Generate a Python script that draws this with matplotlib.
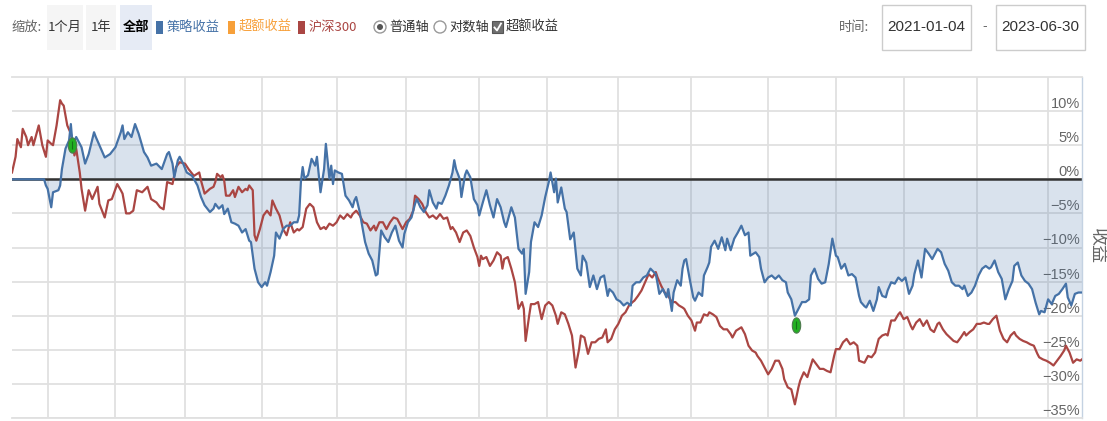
import matplotlib
matplotlib.use('Agg')
import matplotlib.pyplot as plt
from matplotlib import font_manager
from matplotlib.patches import Rectangle, Ellipse
from matplotlib.lines import Line2D
from matplotlib.path import Path
import numpy as np

W, H = 1107, 421

# x is the trading-day index counted from 2021-01-04, values are cumulative returns in %
strat_days = [0, 18, 19, 20, 22, 23, 26, 27, 28, 30, 32, 33, 34, 36, 39, 41, 43, 46, 47, 49,
              52, 55, 58, 61, 62, 63, 65, 67, 69, 71, 74, 76, 78, 81, 84, 87, 88, 90, 91, 93,
              94, 96, 98, 101, 104, 106, 108, 111, 113, 114, 116, 118, 119, 121, 123, 125, 127, 129, 131, 133,
              134, 136, 138, 140, 142, 143, 145, 147, 148, 150, 152, 154, 156, 158, 160, 161, 162, 163, 164, 166,
              168, 170, 171, 173, 175, 176, 178, 179, 180, 181, 183, 185, 187, 189, 191, 192, 193, 195, 196, 198,
              200, 202, 204, 205, 207, 209, 211, 213, 215, 217, 219, 220, 222, 224, 226, 227, 229, 231, 233, 234,
              236, 238, 239, 241, 243, 245, 247, 248, 249, 251, 252, 254, 255, 257, 259, 261, 262, 264, 266, 268,
              270, 272, 274, 276, 277, 280, 282, 284, 286, 287, 288, 290, 291, 293, 295, 297, 299, 301, 302, 304,
              305, 306, 308, 310, 311, 313, 315, 317, 319, 320, 322, 324, 326, 328, 330, 332, 334, 335, 337, 339,
              341, 343, 345, 347, 348, 350, 352, 354, 356, 358, 361, 362, 363, 365, 367, 368, 370, 371, 373, 375,
              376, 377, 378, 380, 382, 383, 385, 387, 388, 390, 391, 392, 394, 396, 398, 400, 401, 403, 405, 407,
              409, 411, 413, 414, 417, 419, 420, 422, 424, 426, 428, 430, 432, 434, 435, 437, 439, 441, 443, 445,
              447, 448, 450, 452, 454, 456, 458, 460, 462, 463, 465, 467, 469, 471, 473, 475, 476, 478, 479, 481,
              483, 485, 486, 488, 490, 491, 493, 495, 497, 499, 501, 503, 505, 506, 508, 510, 512, 514, 516, 518,
              519, 521, 523, 525, 527, 529, 531, 533, 534, 536, 538, 540, 542, 544, 546, 548, 549, 551, 553, 555,
              557, 559, 561, 562, 564, 566, 568, 570, 572, 574, 576, 577, 579, 581, 583, 585, 587, 589, 591, 592,
              594, 596, 598, 600]
strat_ret = [0.0, 0.0, -0.9, -1.4, -4.1, -1.9, -1.6, -0.9, 1.5, 4.5, 5.7, 8.1, 5.0, 6.2, 4.7, 2.3, 3.7, 6.9, 6.2, 5.0,
             3.2, 3.7, 4.7, 6.9, 7.9, 5.9, 6.9, 6.2, 8.1, 6.7, 4.0, 3.2, 2.0, 2.3, 1.5, 3.7, 4.0, 2.3, 0.3, 2.8,
             3.3, 2.3, 1.0, 0.5, -0.9, -2.6, -3.8, -4.8, -4.3, -3.6, -4.3, -3.8, -5.1, -4.3, -6.3, -6.5, -6.8, -7.8, -7.3, -9.0,
             -9.2, -13.1, -15.1, -15.8, -15.1, -15.6, -13.6, -11.2, -7.8, -8.7, -7.3, -6.8, -6.8, -6.3, -6.3, -5.3, -0.4, 1.8, 0.1, 0.6,
             3.0, 2.0, 3.3, -1.9, 1.5, 5.2, 0.1, 2.0, -0.7, 1.3, 1.0, 0.8, -2.4, -3.1, -4.1, -3.1, -2.6, -4.8, -6.3, -9.2,
             -10.9, -11.9, -14.1, -13.9, -7.5, -8.5, -9.2, -7.8, -6.8, -9.0, -10.0, -8.0, -6.3, -5.6, -3.6, -2.9, -4.1, -4.8, -3.8, -1.6,
             -3.4, -4.3, -3.4, -3.6, -2.4, -0.9, 1.0, 2.8, 1.5, 0.1, -2.6, 0.6, 1.3, 0.3, -2.9, -3.8, -5.3, -3.4, -1.6, -3.8,
             -5.6, -2.9, -4.1, -6.3, -7.0, -4.1, -5.6, -10.2, -10.9, -10.2, -16.8, -13.6, -9.2, -6.3, -7.0, -5.3, -2.6, -0.4, 1.0, -1.9,
             0.1, -3.4, -1.2, -4.3, -4.8, -8.8, -7.8, -13.1, -14.1, -11.2, -12.2, -15.8, -14.1, -16.1, -14.4, -14.1, -17.1, -16.1, -16.6, -17.6,
             -17.9, -18.5, -18.1, -18.5, -15.6, -15.1, -15.1, -14.4, -14.1, -13.1, -13.9, -15.3, -16.8, -16.1, -17.3, -16.1, -19.3, -16.6, -14.8, -15.6,
             -13.1, -11.9, -11.7, -14.6, -17.3, -17.8, -16.6, -17.1, -14.1, -12.9, -12.2, -9.9, -9.0, -10.2, -8.5, -10.4, -8.7, -10.4, -8.7, -7.8,
             -6.8, -8.2, -7.8, -11.2, -10.7, -11.4, -13.1, -15.1, -14.4, -14.1, -14.6, -14.1, -14.8, -15.1, -16.6, -17.6, -20.0, -19.0, -18.0, -18.0,
             -17.6, -14.1, -13.1, -14.6, -15.3, -15.1, -12.4, -8.7, -11.2, -11.4, -13.1, -12.4, -14.1, -13.9, -14.4, -17.1, -18.0, -18.6, -18.8, -17.8,
             -19.3, -17.6, -15.8, -17.1, -17.3, -16.3, -15.1, -15.3, -14.4, -14.9, -14.4, -16.8, -15.6, -13.9, -11.9, -14.4, -10.2, -10.9, -11.7, -10.7,
             -10.2, -10.7, -12.4, -13.4, -15.1, -15.6, -15.6, -16.1, -15.6, -17.1, -16.6, -15.6, -14.1, -13.1, -12.7, -13.1, -12.9, -11.9, -13.6, -14.6,
             -17.6, -16.1, -14.9, -12.7, -12.2, -14.1, -14.9, -15.3, -16.1, -18.1, -19.8, -19.3, -19.5, -17.6, -18.3, -17.1, -16.8, -16.1, -15.3, -17.3,
             -18.5, -16.8, -16.6, -16.6]

hs300_days = [0, 2, 3, 5, 6, 8, 9, 11, 12, 14, 15, 17, 19, 20, 22, 23, 25, 27, 28, 29,
              31, 33, 34, 35, 36, 38, 39, 41, 43, 45, 48, 49, 52, 54, 56, 59, 61, 62, 64, 66,
              68, 70, 73, 76, 78, 81, 83, 85, 87, 90, 91, 92, 94, 97, 99, 102, 105, 106, 108, 111,
              113, 114, 115, 117, 118, 119, 120, 122, 124, 125, 127, 129, 131, 132, 133, 135, 136, 137, 139, 141,
              143, 145, 146, 148, 150, 152, 154, 156, 158, 160, 161, 163, 165, 167, 169, 171, 173, 175, 176, 178,
              180, 182, 184, 186, 188, 190, 191, 193, 195, 197, 199, 201, 203, 204, 206, 208, 210, 212, 214, 216,
              218, 219, 221, 223, 225, 226, 228, 230, 232, 234, 236, 238, 240, 242, 244, 246, 247, 249, 251, 253,
              255, 257, 259, 261, 262, 263, 264, 266, 268, 270, 272, 274, 275, 276, 278, 280, 282, 284, 286, 287,
              288, 290, 291, 293, 295, 297, 299, 301, 303, 305, 306, 308, 310, 312, 314, 316, 318, 319, 321, 323,
              325, 327, 329, 331, 333, 334, 336, 338, 340, 342, 344, 346, 348, 349, 351, 353, 355, 357, 359, 361,
              362, 364, 366, 368, 370, 372, 374, 376, 377, 379, 381, 383, 384, 386, 388, 390, 391, 393, 395, 397,
              399, 401, 403, 404, 406, 409, 411, 413, 415, 417, 418, 420, 422, 424, 426, 428, 430, 432, 433, 435,
              437, 439, 441, 442, 444, 446, 447, 449, 451, 453, 455, 457, 459, 461, 462, 464, 466, 468, 470, 472,
              474, 475, 478, 480, 482, 484, 486, 488, 490, 491, 493, 495, 497, 498, 500, 502, 504, 505, 507, 509,
              511, 513, 515, 517, 519, 520, 522, 524, 526, 528, 530, 532, 534, 535, 537, 539, 541, 543, 545, 547,
              548, 550, 552, 554, 556, 558, 560, 562, 563, 565, 567, 569, 571, 573, 575, 576, 578, 580, 582, 584,
              586, 588, 590, 591, 593, 595, 597, 599, 600]
hs300_ret = [1.0, 3.3, 5.9, 4.7, 7.4, 6.2, 5.0, 6.2, 5.0, 6.9, 7.9, 5.0, 3.3, 5.7, 5.2, 5.0, 7.9, 11.6, 11.1, 10.8,
             7.9, 6.7, 5.5, 3.5, 4.5, 1.0, -1.4, -4.6, -1.6, -2.9, -1.1, -3.6, -5.6, -3.1, -2.9, -0.7, -1.6, -2.1, -5.0, -5.0,
             -4.6, -1.6, -1.9, -1.1, -2.9, -3.4, -4.1, -4.4, -0.4, -0.7, 0.6, 1.8, 2.5, 2.3, 1.5, 0.5, 1.0, -0.2, -2.1, -1.4,
             -1.1, -0.4, 0.8, 0.3, 0.6, -0.2, -2.4, -2.4, -1.6, -2.6, -1.1, -1.9, -1.4, -1.6, -0.9, -1.6, -8.2, -9.0, -7.3, -5.3,
             -4.6, -5.3, -3.1, -4.3, -5.3, -7.3, -8.2, -6.3, -7.8, -7.3, -7.5, -7.0, -4.3, -3.6, -4.1, -6.3, -7.3, -7.0, -7.3, -6.5,
             -6.8, -6.3, -5.3, -5.8, -5.1, -5.6, -5.1, -4.6, -5.3, -6.3, -6.5, -7.5, -6.8, -7.5, -6.3, -6.3, -7.3, -6.3, -5.6, -5.8,
             -6.8, -7.3, -6.3, -5.8, -4.6, -2.4, -2.9, -3.6, -4.8, -5.6, -5.3, -5.8, -5.1, -5.8, -5.6, -7.3, -7.0, -7.8, -9.2, -7.8,
             -7.5, -8.3, -10.0, -11.4, -12.7, -11.2, -11.7, -11.4, -12.7, -11.9, -10.7, -11.2, -13.1, -11.7, -11.4, -13.1, -15.1, -19.0, -18.0, -19.0,
             -23.7, -20.0, -18.3, -18.3, -18.0, -20.5, -18.5, -18.0, -18.5, -20.0, -21.2, -19.5, -19.8, -21.2, -22.9, -27.6, -24.9, -22.9, -23.2, -25.6,
             -23.9, -23.9, -23.4, -23.2, -22.0, -23.9, -23.4, -22.0, -21.2, -20.0, -19.5, -18.5, -18.0, -17.8, -17.1, -16.3, -15.1, -13.9, -14.4, -13.6,
             -14.4, -15.6, -16.6, -17.1, -18.0, -18.0, -18.5, -18.8, -19.0, -20.0, -20.7, -22.2, -21.0, -21.0, -19.8, -20.0, -19.5, -19.8, -20.2, -21.5,
             -22.0, -22.0, -22.7, -23.2, -22.2, -21.7, -22.7, -24.4, -25.1, -25.4, -25.9, -26.6, -27.6, -28.6, -27.8, -26.6, -26.6, -27.8, -29.3, -30.5,
             -30.8, -33.0, -30.5, -29.5, -28.3, -29.0, -28.1, -26.4, -27.1, -27.8, -27.8, -28.1, -28.3, -25.9, -24.9, -24.9, -23.9, -23.4, -24.2, -23.9,
             -24.4, -26.6, -26.9, -25.9, -26.1, -25.4, -23.4, -22.9, -22.7, -22.9, -20.7, -20.7, -19.8, -19.5, -20.5, -20.2, -21.5, -22.0, -21.0, -20.5,
             -21.5, -20.7, -22.0, -22.4, -21.2, -21.0, -22.0, -22.7, -23.2, -23.7, -23.9, -23.2, -22.4, -22.9, -22.4, -22.0, -21.2, -21.2, -21.0, -21.2,
             -21.2, -20.5, -20.0, -22.2, -23.4, -23.9, -22.9, -22.4, -22.9, -23.4, -23.7, -23.9, -24.2, -24.4, -25.6, -26.1, -26.4, -26.6, -26.9, -27.3,
             -26.6, -25.9, -25.1, -24.4, -25.4, -26.9, -26.4, -26.6, -26.4]

# first trading day of every second month (Feb 2021 ... Jun 2023)
month_ticks = [20, 58, 97, 140, 182, 221, 262, 300, 340, 381, 424, 462, 500, 541, 581]
y_ticks = [10, 5, 0, -5, -10, -15, -20, -25, -30, -35]

# drawdown markers on the strategy curve
dot_days = [33.5, 439.5]
dot_ret = [5.0, -21.3]

start_date, end_date = '2021-01-04', '2023-06-30'

BLUE = '#4572A7'
RED = '#AA4643'
ORANGE = '#f7a03a'
GRID = '#e0e0e0'

plt.rcParams['font.family'] = ['Noto Sans CJK SC', 'DejaVu Sans']
names = {f.name for f in font_manager.fontManager.ttflist}
narrow = 'Liberation Sans Narrow' if 'Liberation Sans Narrow' in names else 'Liberation Sans'
num_font = [narrow, 'DejaVu Sans']

fig = plt.figure(figsize=(W / 100, H / 100), dpi=100)


def fx(x):
    return x / W


def fy(y):
    return 1 - y / H


# ---- toolbar row ----
def box(x0, x1, face, edge='none'):
    fig.add_artist(Rectangle((fx(x0), fy(50)), (x1 - x0) / W, 45 / H, transform=fig.transFigure,
                             facecolor=face, edgecolor=edge, lw=1))


def label(x, s, color='#333333', **kw):
    fig.text(fx(x), fy(27), s, color=color, va='center', fontsize=9.5, **kw)


label(11, '缩放:', color='#666666')
box(47, 83, '#f5f5f5')
label(65, '1个月', ha='center')
box(86, 116, '#f5f5f5')
label(101, '1年', ha='center')
box(120, 152, '#e6ebf5')
label(136, '全部', color='#000000', ha='center', fontweight='bold')

for x0, txt, col in [(156, '策略收益', BLUE), (228, '超额收益', ORANGE), (298, '沪深300', RED)]:
    fig.add_artist(Rectangle((fx(x0), fy(34)), 7 / W, 13 / H, transform=fig.transFigure,
                             facecolor=col, edgecolor='none'))
    label(x0 + 11, txt, color=col)

# radio buttons and checkbox
fig.add_artist(Ellipse((fx(380), fy(27)), 12 / W, 12 / H, transform=fig.transFigure,
                       facecolor='white', edgecolor='#999999', lw=1))
fig.add_artist(Ellipse((fx(380), fy(27)), 6 / W, 6 / H, transform=fig.transFigure,
                       facecolor='#555555', edgecolor='none'))
label(389, '普通轴')
fig.add_artist(Ellipse((fx(440), fy(27)), 12 / W, 12 / H, transform=fig.transFigure,
                       facecolor='white', edgecolor='#999999', lw=1))
label(449, '对数轴')
fig.add_artist(Rectangle((fx(492), fy(33)), 11 / W, 12 / H, transform=fig.transFigure,
                         facecolor='#6f6f6f', edgecolor='#555555', lw=0.8))
fig.add_artist(Line2D([fx(494.5), fx(497), fx(501)], [fy(27.5), fy(30.5), fy(23.5)],
                      transform=fig.transFigure, color='white', lw=1.3))
label(506, '超额收益')

# date range inputs
label(839, '时间:', color='#666666')
box(882, 971, 'white', '#cccccc')
fig.text(fx(926.5), fy(27), start_date, color='#333333', va='center', ha='center', fontsize=11, family=num_font)
label(985, '-', color='#666666', ha='center')
box(996, 1085, 'white', '#cccccc')
fig.text(fx(1040.5), fy(27), end_date, color='#333333', va='center', ha='center', fontsize=11, family=num_font)

# ---- chart ----
ax = fig.add_axes([fx(12), fy(418), 1070 / W, 341 / H])
ax.set_xlim(0, 600)
ax.set_ylim(-35, 15)

ax.set_xticks(month_ticks)
ax.tick_params(axis='x', length=0, labelbottom=False)
ax.set_yticks(y_ticks)
ax.set_yticklabels([f'{v}%'.replace('-', '\u2212') for v in y_ticks])
ax.yaxis.tick_right()
ax.tick_params(axis='y', length=0, pad=-1.5, labelsize=10.5, labelcolor='#666666')
for t in ax.yaxis.get_major_ticks():
    t.label2.set_ha('right')
    t.label2.set_va('bottom')
    t.label2.set_family(num_font)

ax.grid(True, color=GRID, lw=1.3, zorder=0)
ax.set_axisbelow(True)
for side in ['top', 'bottom']:
    ax.spines[side].set_color(GRID)
    ax.spines[side].set_linewidth(1.3)
ax.spines['left'].set_visible(False)
ax.spines['right'].set_color('#c4d2e2')
ax.spines['right'].set_linewidth(1)

ax.fill_between(strat_days, strat_ret, 0, color=BLUE, alpha=0.2, lw=0, zorder=1)
ax.axhline(0, color='#333333', lw=1.8, zorder=2)
ax.plot(hs300_days, hs300_ret, color=RED, lw=1.6, zorder=3)
ax.plot(strat_days, strat_ret, color=BLUE, lw=1.6, zorder=4)

t = np.linspace(0, 2 * np.pi, 40)
oval = Path(np.column_stack([0.55 * np.cos(t), np.sin(t)]))
ax.plot(dot_days, dot_ret, ls='none', marker=oval, markersize=11,
        markerfacecolor='#22b022', markeredgecolor='#4d7a4d', markeredgewidth=0.8, zorder=5)
ax.plot(dot_days, dot_ret, ls='none', marker='|', markersize=6, color='#16701a', mew=0.8, zorder=6)

fig.text(fx(1097), fy(246), '收益', rotation=-90, ha='center', va='center', color='#666666', fontsize=13)

fig.savefig('out.png', dpi=100)
